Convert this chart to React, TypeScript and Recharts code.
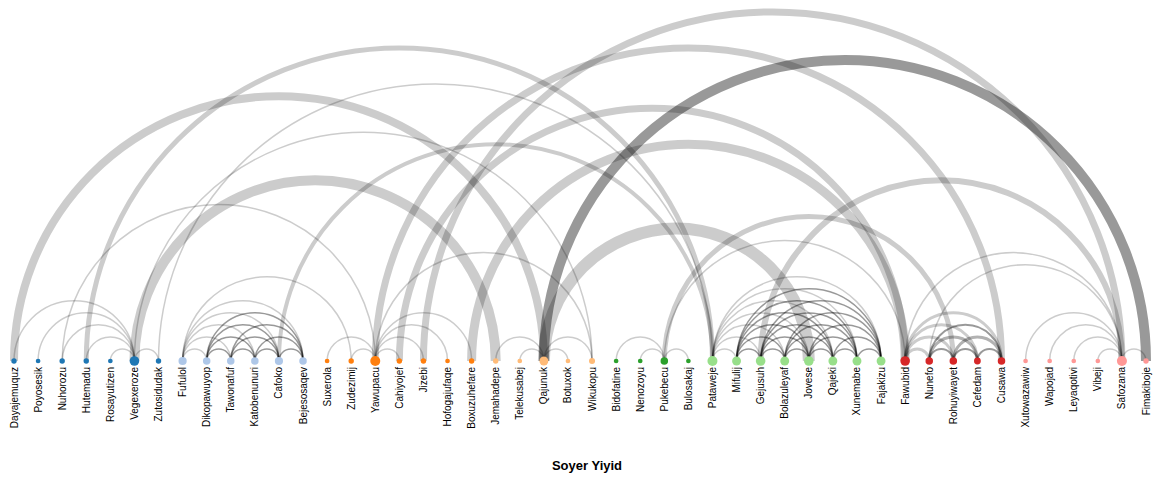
import React from 'react';
import { ComposedChart, Scatter, XAxis, YAxis } from 'recharts';

const nodeNames = ['Dayajemuquz','Poyosesik','Nuhorozu','Hutemadu','Rosayutizen','Vegexeroze','Zutosidudak','Fufulol','Dikopawuyop','Tawonafuf','Katobenunuri','Cafoko','Bejesosaqev','Suxerola','Zudezimij','Yawupacu','Cahiyojef','Jizebi','Hofogajufaqe','Boxuzuhefare','Jemahadepe','Telekusabej','Qajunuk','Botuxok','Wikukopu','Bidofatine','Nenozoyu','Pukebecu','Bulosakaj','Pataweje','Mifulij','Gejusuh','Bolazuleyaf','Jovese','Qajeki','Xunemabe','Fajakizu','Fawubid','Nunefo','Rohuyiwayet','Cefedam','Cusawa','Xutowazawiw','Wapojad','Leyaqotivi','Vibeji','Safozana','Fimakiboje'];
const nodeGroups = [0,0,0,0,0,0,0,1,1,1,1,1,1,2,2,2,2,2,2,2,3,3,3,3,3,4,4,4,4,5,5,5,5,5,5,5,5,6,6,6,6,6,7,7,7,7,7,7];
const groupColors = ['#1f77b4','#aec7e8','#ff7f0e','#ffbb78','#2ca02c','#98df8a','#d62728','#ff9896'];

// [source, target, value, strength]
const hubLinks: number[][] = [
  [0,5,1,1],[1,5,1,1],[2,5,1,1],[3,5,1,1],[4,5,1,1],[5,6,1,1],
  [13,15,1,1],[14,15,1,1],[15,16,1,1],[15,17,1,1],[15,18,1,1],[15,19,1,1],
  [20,22,1,1],[21,22,1,1],[22,23,1,1],[22,24,1,1],
  [25,27,1,1],[26,27,1,1],[27,28,1,1],
  [42,46,1,1],[43,46,1,1],[44,46,1,1],[45,46,1,1],[46,47,1,1],
];
const cliqueLinks: number[][] = [
  [7,8,1,1],[7,9,1,1],[7,10,1,1],[7,11,1,1],[7,12,1,1],
  [8,9,1,3],[8,10,1,3],[8,11,1,3],[8,12,1,3],[9,10,1,3],[9,11,1,3],[9,12,1,3],[10,11,1,3],[10,12,1,3],[11,12,1,3],
  [29,30,1,1],[29,31,1,1],[29,32,1,1],[29,33,1,1],[29,34,1,1],[29,35,1,1],[29,36,1,1],
  [30,31,1,3],[30,32,1,3],[30,33,1,3],[30,34,1,3],[30,35,1,3],[30,36,1,3],
  [31,32,1,3],[31,33,1,3],[31,34,1,3],[31,35,1,3],[31,36,1,3],
  [32,33,1,3],[32,34,1,3],[32,35,1,3],[32,36,1,3],
  [33,34,1,3],[33,35,1,3],[33,36,1,3],[34,35,1,3],[34,36,1,3],[35,36,1,3],
  [37,38,3,1],[37,39,3,1],[37,40,3,1],[37,41,3,1],
  [38,39,2,3],[38,40,3,2],[38,41,2,3],[39,40,2,3],[39,41,3,2],[40,41,2,3],
];
const longLinks: number[][] = [
  [0,22,8,1],[3,29,5,1],[2,15,1,1],[5,20,10,1],[6,29,1,1],[5,24,1,1],[7,14,1,1],
  [11,29,4,1],[15,24,1,1],[15,41,7,1],[16,37,7,1],[17,46,7,1],[19,37,9,1],
  [22,47,10,3],[22,33,12,1],[31,46,6,1],[27,39,5,1],[27,37,1,1],[37,46,1,1],[38,46,1,1],
];

const allLinks = [...longLinks, ...hubLinks, ...cliqueLinks];
const degree = nodeNames.map((_, i) => allLinks.filter(l => l[0] === i || l[1] === i).length);
const nodeData = nodeNames.map((name, i) => ({ x: i, y: 0, name, group: nodeGroups[i], deg: degree[i] }));

const NodeShape = (p: any) => {
  const r = Math.min(5, 2 + 0.35 * p.payload.deg);
  return <circle cx={p.cx} cy={p.cy} r={r} fill={groupColors[p.payload.group]} />;
};
const Empty = () => <g />;

const makeArc = (value: number, strength: number) => (p: any) => {
  const pts = p.points || [];
  if (pts.length < 2) return <g />;
  const a = pts[0], b = pts[1];
  const r = Math.abs(b.x - a.x) / 2;
  return (
    <path d={`M${a.x},${a.y} A${r},${r} 0 0 1 ${b.x},${b.y}`} fill="none" stroke="#000"
      strokeOpacity={strength === 3 ? 0.4 : strength === 2 ? 0.3 : 0.2} strokeWidth={value === 1 ? 1.5 : value} />
  );
};

const Tick = (p: any) => (
  <text x={p.x} y={p.y} transform={`rotate(-90 ${p.x} ${p.y})`} textAnchor="end" dominantBaseline="central"
    fontSize={10} fill="#000" fontFamily="Liberation Sans, Arial, sans-serif">{nodeNames[p.payload.value]}</text>
);

export default function App() {
  return (
    <div style={{ position: 'absolute', left: 0, top: 0, width: 1174, height: 481, background: '#fff' }}>
      <ComposedChart width={1174} height={481} margin={{ top: 0, right: 28, bottom: 10, left: 14 }}>
        <XAxis dataKey="x" type="number" domain={[0, 47]} ticks={nodeNames.map((_, i) => i)} interval={0}
          axisLine={false} tickLine={false} tick={<Tick />} tickMargin={0} height={110} allowDuplicatedCategory={false} />
        <YAxis dataKey="y" type="number" domain={[0, 1]} hide />
        {allLinks.map((l, i) => (
          <Scatter key={'l' + i} data={[{ x: l[0], y: 0 }, { x: l[1], y: 0 }]} shape={<Empty />}
            line={makeArc(l[2], l[3])} lineType="joint" isAnimationActive={false} />
        ))}
        <Scatter data={nodeData} shape={<NodeShape />} isAnimationActive={false} />
      </ComposedChart>
      <div style={{ position: 'absolute', left: 0, width: 1174, top: 458, textAlign: 'center', fontFamily: 'Liberation Sans, Arial, sans-serif', fontWeight: 'bold', fontSize: 13 }}>Soyer Yiyid</div>
    </div>
  );
}
